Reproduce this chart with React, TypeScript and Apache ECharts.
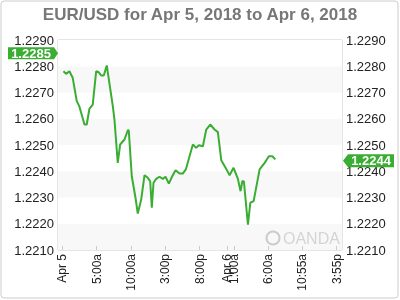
import React, { useEffect, useRef } from "react";
import * as echarts from "echarts";

// hours since Apr 5, 2018 00:00
const hours = [
  0.19, 0.58, 1.06, 1.54, 2.13, 2.52, 3.25, 3.58, 3.97, 4.45, 4.95, 5.33, 5.68, 6.06, 6.49,
  7.37, 7.61, 8.09, 8.44, 9.07, 9.55, 9.69, 10.13, 10.67, 11.0, 11.5, 11.98, 12.46, 12.81,
  13.04, 13.29, 13.68, 14.16, 14.64, 15.04, 15.52, 16.01, 16.49, 17.07, 17.55, 17.99, 18.53,
  19.01, 19.5, 19.88, 20.47, 20.96, 21.54, 22.17, 22.65, 23.14, 23.87, 24.35, 24.93, 25.56,
  25.95, 26.2, 26.43, 27.02, 27.37, 27.85, 28.72, 29.45, 30.07, 30.57, 31.0,
];
const rates = [
  1.22781, 1.22771, 1.22781, 1.22756, 1.22667, 1.22646, 1.22578, 1.22578, 1.22638, 1.22654,
  1.22781, 1.22777, 1.22765, 1.22765, 1.22803, 1.22648, 1.22597, 1.22432, 1.22502, 1.22521,
  1.22556, 1.22556, 1.22381, 1.22299, 1.22239, 1.22292, 1.22385, 1.22375, 1.22362, 1.22261,
  1.22356, 1.22371, 1.22379, 1.22371, 1.22379, 1.22353, 1.22381, 1.22404, 1.22391, 1.22391,
  1.22407, 1.22457, 1.22502, 1.22489, 1.22499, 1.22495, 1.22559, 1.22578, 1.22559, 1.22549,
  1.22442, 1.22409, 1.22385, 1.22413, 1.22371, 1.22324, 1.22362, 1.22362, 1.22197, 1.2228,
  1.22286, 1.22407, 1.22432, 1.22457, 1.22457, 1.22445,
];
const tickHours = [0, 5, 10, 15, 20, 24, 25, 30, 34.9167, 39.9167];
const tickLabels = ["Apr 5", "5:00a", "10:00a", "3:00p", "8:00p", "Apr 6", "1:00a", "6:00a", "10:55a", "3:55p"];
const openBadge = 1.2285;
const lastBadge = 1.2244;
const titleText = "EUR/USD for Apr 5, 2018 to Apr 6, 2018";

const GREEN = "#3aad33";
const FAMILY = "Liberation Sans";

export default function App() {
  const ref = useRef<HTMLDivElement>(null);
  useEffect(() => {
    const chart = echarts.init(ref.current!, undefined, { renderer: "svg" });
    const yCommon = {
      type: "value" as const,
      min: 1.221,
      max: 1.229,
      interval: 0.001,
      axisLine: { show: false },
      axisTick: { show: false },
      axisLabel: {
        color: "#222",
        fontSize: 13,
        fontFamily: FAMILY,
        margin: 4,
        formatter: (v: number) => v.toFixed(4),
      },
    };
    chart.setOption({
      animation: false,
      grid: { left: 58, right: 58, top: 40, bottom: 50, show: true, borderColor: "#ccc", borderWidth: 1, backgroundColor: "#fff" },
      xAxis: {
        type: "value",
        min: -0.6,
        max: 40.7,
        axisLine: { show: false },
        splitLine: { show: false },
        axisTick: { show: true, inside: true, length: 4, lineStyle: { color: "#ccc" }, customValues: tickHours },
        axisLabel: {
          customValues: tickHours,
          rotate: 90,
          margin: 4,
          color: "#222",
          fontSize: 12,
          fontFamily: FAMILY,
          formatter: (v: number) => {
            const i = tickHours.findIndex((t) => Math.abs(t - v) < 1e-3);
            return i >= 0 ? tickLabels[i] : "";
          },
        },
      },
      yAxis: [
        {
          ...yCommon,
          position: "left",
          splitLine: { show: false },
          splitArea: { show: true, areaStyle: { color: ["#f8f8f8", "#ffffff"] } },
        },
        { ...yCommon, position: "right", splitLine: { show: false }, splitArea: { show: false } },
      ],
      series: [
        {
          type: "line",
          data: hours.map((h, i) => [h, rates[i]]),
          showSymbol: false,
          lineStyle: { color: GREEN, width: 2 },
          z: 3,
        },
      ],
    });
    const yOpen = chart.convertToPixel({ yAxisIndex: 0 }, openBadge) as number;
    const yLast = chart.convertToPixel({ yAxisIndex: 0 }, lastBadge) as number;
    const badgeText = { fontSize: 13, fontWeight: "bold", fontFamily: FAMILY, fill: "#fff", align: "center", verticalAlign: "middle" };
    chart.setOption({
      graphic: [
        { type: "rect", shape: { x: 1, y: 1, width: 397, height: 297, r: 3 }, style: { fill: "none", stroke: "#ccc", lineWidth: 1 }, silent: true },
        { type: "text", x: 200, y: 14, style: { text: titleText, fontSize: 17, fontWeight: "bold", fontFamily: FAMILY, fill: "#777", align: "center", verticalAlign: "middle" } },
        { type: "polygon", shape: { points: [[8, yOpen - 6], [54, yOpen - 6], [58, yOpen], [54, yOpen + 6], [8, yOpen + 6]] }, style: { fill: GREEN }, z: 10 },
        { type: "text", x: 31, y: yOpen, style: { text: openBadge.toFixed(4), ...badgeText }, z: 11 },
        { type: "polygon", shape: { points: [[343, yLast], [348, yLast - 6.5], [394, yLast - 6.5], [394, yLast + 6.5], [348, yLast + 6.5]] }, style: { fill: GREEN }, z: 10 },
        { type: "text", x: 371, y: yLast, style: { text: lastBadge.toFixed(4), ...badgeText }, z: 11 },
        { type: "circle", shape: { cx: 273, cy: 238, r: 6.5 }, style: { fill: "none", stroke: "#ccc", lineWidth: 2 }, z: 2 },
        { type: "text", x: 283, y: 238, style: { text: "OANDA", fontSize: 16, fontFamily: FAMILY, fill: "#d4d4d4", verticalAlign: "middle" }, z: 2 },
      ],
    });
    return () => chart.dispose();
  }, []);
  return <div ref={ref} style={{ position: "fixed", left: 0, top: 0, width: 400, height: 300 }} />;
}
